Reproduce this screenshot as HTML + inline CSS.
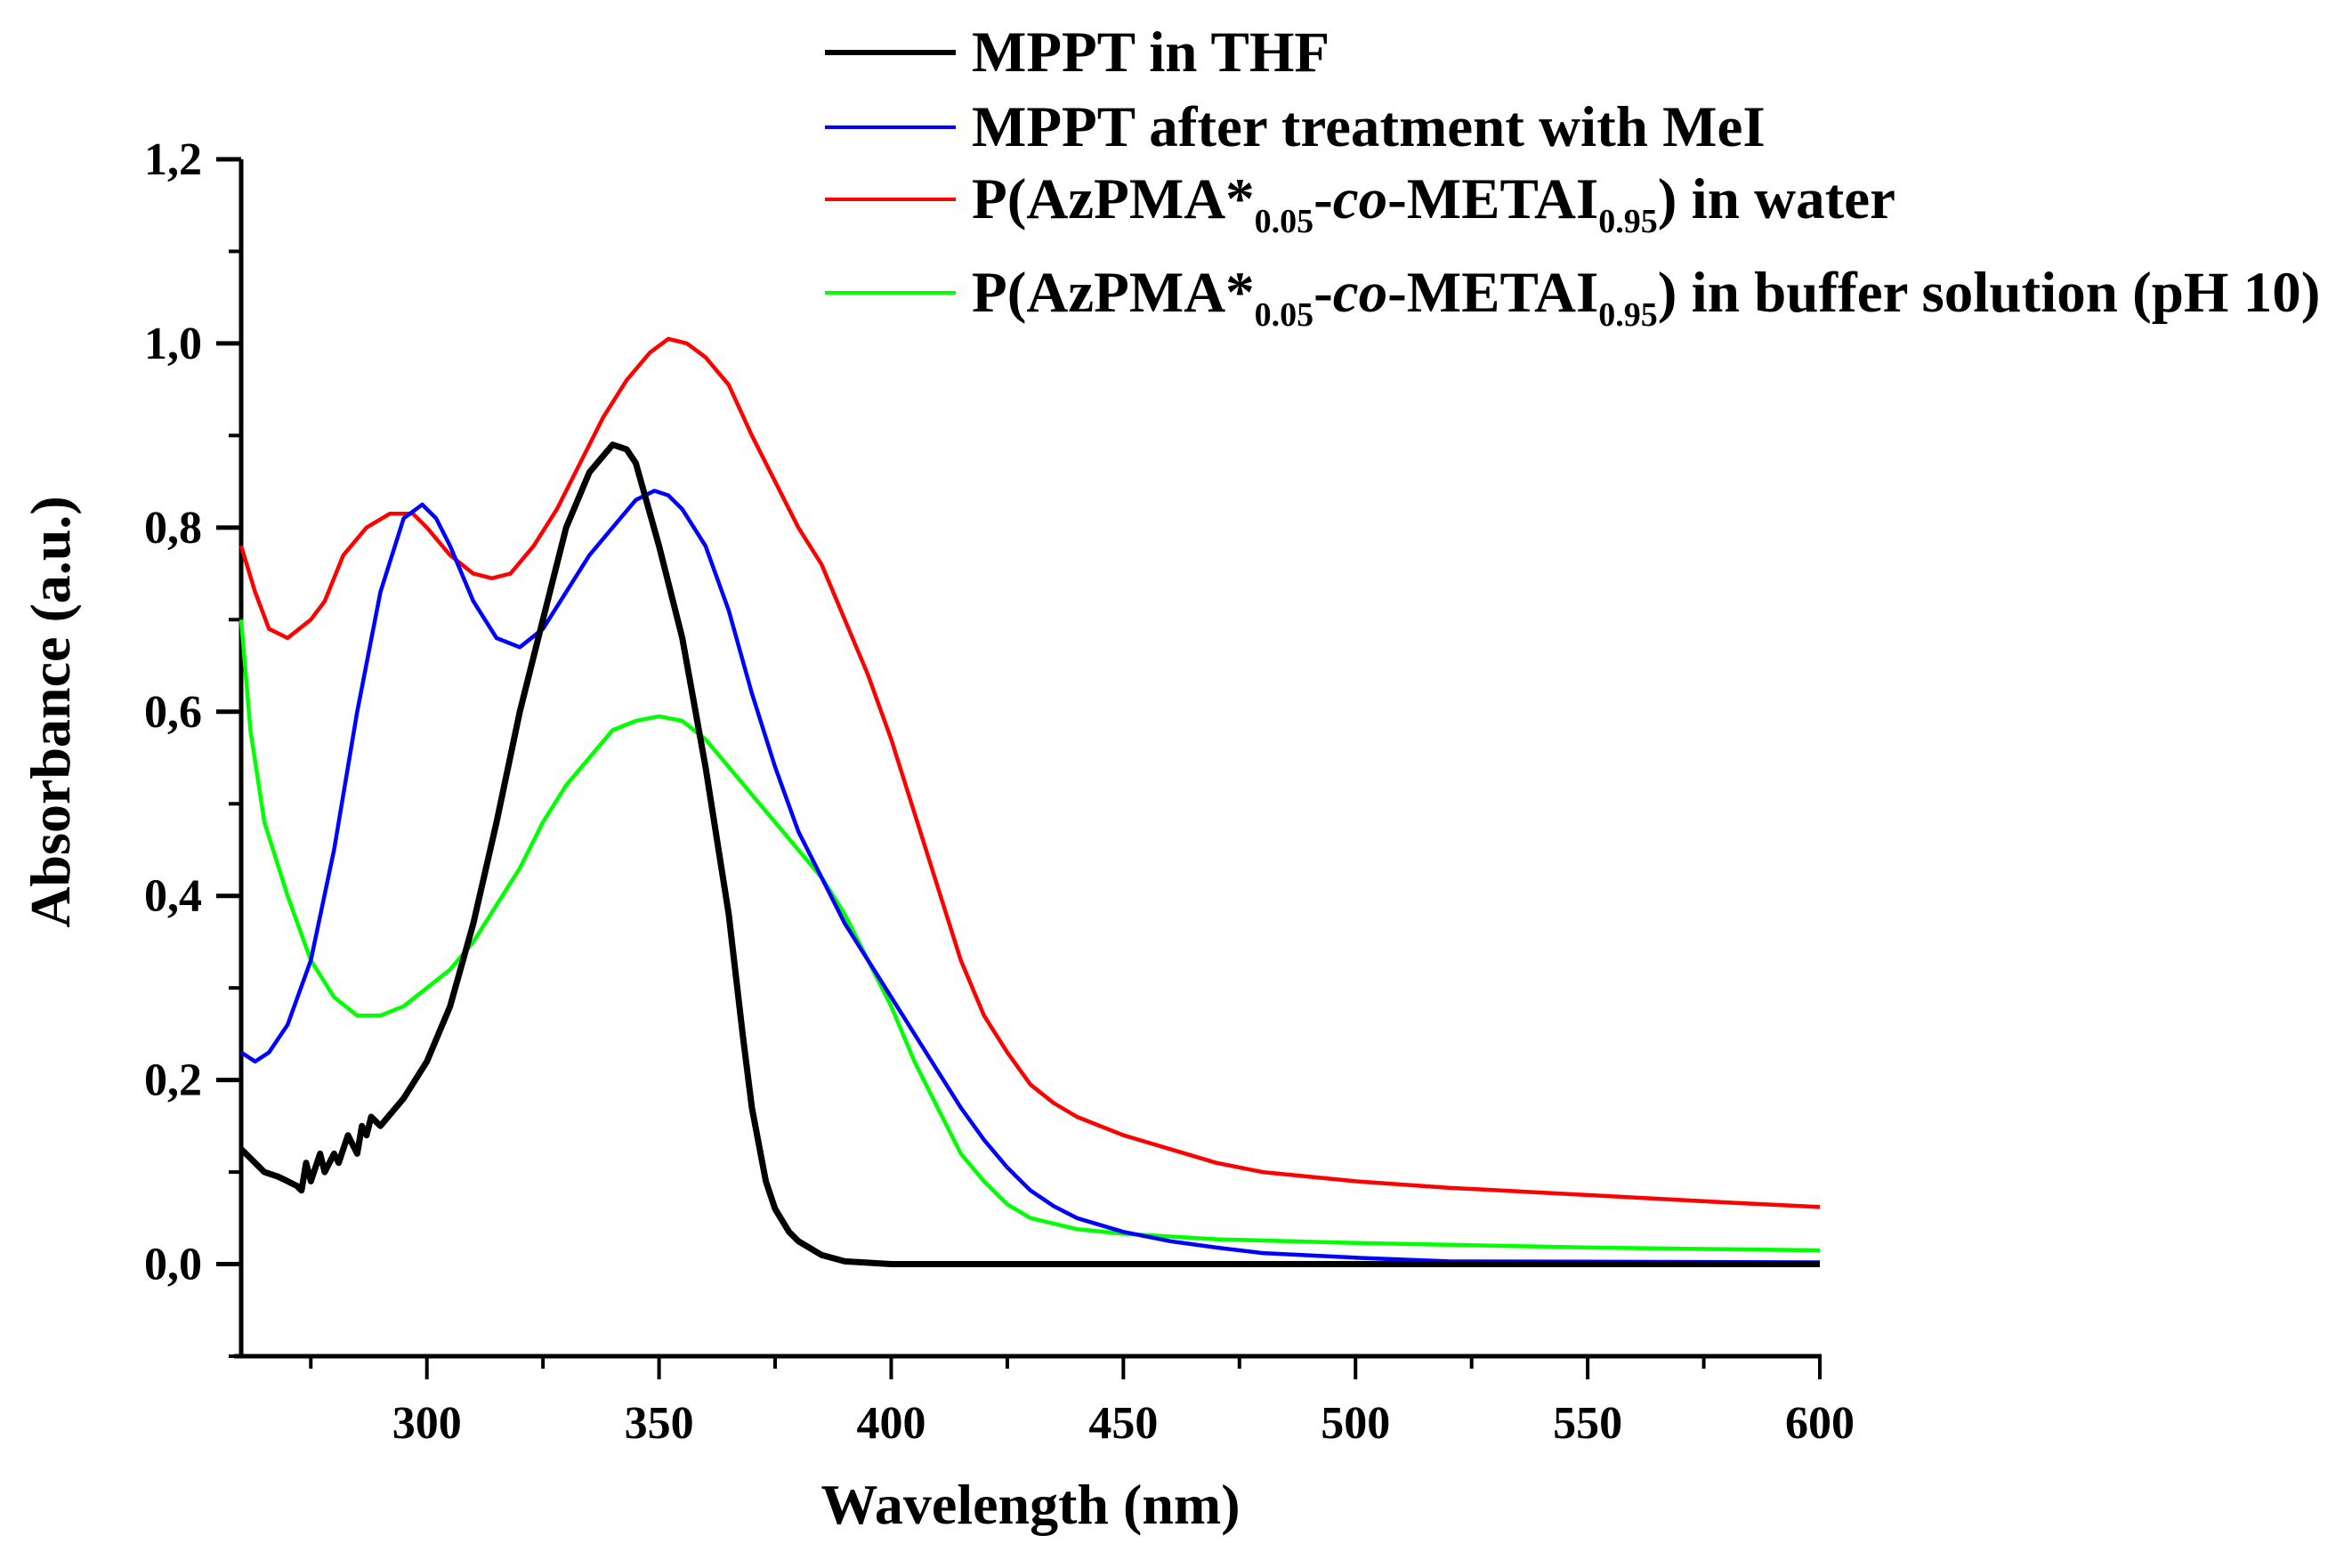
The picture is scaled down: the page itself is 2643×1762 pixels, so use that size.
<!DOCTYPE html>
<html><head><meta charset="utf-8"><style>
html,body{margin:0;padding:0;background:#fff;}
svg{display:block;font-family:"Liberation Serif",serif;font-weight:bold;}
</style></head><body>
<svg id="chart" width="2643" height="1762" viewBox="0 0 2643 1762" xmlns="http://www.w3.org/2000/svg">
<g id="axes"></g>
<g id="series"></g>
<text x="1158" y="1712" font-size="64" text-anchor="middle">Wavelength (nm)</text>
<text transform="translate(78,800) rotate(-90)" font-size="64" text-anchor="middle">Absorbance (a.u.)</text>
<g font-size="65">
 <g>
  <line x1="927" y1="59" x2="1074" y2="59" stroke="#000" stroke-width="6"/>
  <text x="1092" y="80">MPPT in THF</text></g>
 <g>
  <line x1="927" y1="143" x2="1074" y2="143" stroke="#0000ff" stroke-width="4"/>
  <text x="1092" y="164">MPPT after treatment with MeI</text></g>
 <g>
  <line x1="927" y1="224" x2="1074" y2="224" stroke="#ff0000" stroke-width="4"/>
  <text x="1092" y="245">P(AzPMA*<tspan font-size="38" dy="16">0.05</tspan><tspan dy="-16">-</tspan><tspan font-style="italic">co</tspan>-METAI<tspan font-size="38" dy="16">0.95</tspan><tspan dy="-16">) in water</tspan></text></g>
 <g>
  <line x1="927" y1="329" x2="1074" y2="329" stroke="#00ff00" stroke-width="4"/>
  <text x="1092" y="350">P(AzPMA*<tspan font-size="38" dy="16">0.05</tspan><tspan dy="-16">-</tspan><tspan font-style="italic">co</tspan>-METAI<tspan font-size="38" dy="16">0.95</tspan><tspan dy="-16">) in buffer solution (pH 10)</tspan></text></g>
</g>
</svg>
<script>
const xTicks=[300,350,400,450,500,550,600];
const xTickLabels=["300","350","400","450","500","550","600"];
const yTicks=[0,0.2,0.4,0.6,0.8,1.0,1.2];
const yTickLabels=["0,0","0,2","0,4","0,6","0,8","1,0","1,2"];
const thfWl=[260,265,268,270,272,273,274,275,277,278,280,281,283,285,286,287,288,290,295,300,305,310,315,320,325,330,335,340,343,345,350,355,360,365,368,370,373,375,378,380,385,390,400,600];
const thfAbs=[0.125,0.10,0.095,0.09,0.085,0.08,0.11,0.09,0.12,0.10,0.12,0.11,0.14,0.12,0.15,0.14,0.16,0.15,0.18,0.22,0.28,0.37,0.48,0.60,0.70,0.80,0.86,0.89,0.885,0.87,0.78,0.68,0.54,0.38,0.25,0.17,0.09,0.06,0.035,0.025,0.01,0.003,0,0];
const meiWl=[260,263,266,270,275,280,285,290,295,299,302,305,310,315,320,325,330,335,340,345,349,352,355,360,365,370,375,380,385,390,395,400,405,410,415,420,425,430,435,440,450,460,470,480,500,520,600];
const meiAbs=[0.23,0.22,0.23,0.26,0.33,0.45,0.60,0.73,0.81,0.825,0.81,0.78,0.72,0.68,0.67,0.69,0.73,0.77,0.80,0.83,0.84,0.835,0.82,0.78,0.71,0.62,0.54,0.47,0.42,0.37,0.33,0.29,0.25,0.21,0.17,0.135,0.105,0.08,0.063,0.05,0.035,0.025,0.018,0.012,0.007,0.003,0.002];
const waterWl=[260,263,266,270,275,278,282,287,292,297,300,305,310,314,318,323,328,333,338,343,348,352,356,360,365,370,375,380,385,390,395,400,405,410,415,420,425,430,435,440,450,460,470,480,500,520,550,580,600];
const waterAbs=[0.78,0.73,0.69,0.68,0.70,0.72,0.77,0.80,0.815,0.815,0.80,0.77,0.75,0.745,0.75,0.78,0.82,0.87,0.92,0.96,0.99,1.005,1.0,0.985,0.955,0.90,0.85,0.80,0.76,0.70,0.64,0.57,0.49,0.41,0.33,0.27,0.23,0.195,0.175,0.16,0.14,0.125,0.11,0.10,0.09,0.083,0.075,0.067,0.062];
const bufferWl=[260,262,265,270,275,280,285,290,295,300,305,310,315,320,325,330,335,340,345,350,355,360,365,370,375,380,385,390,395,400,405,410,415,420,425,430,440,450,470,500,550,600];
const bufferAbs=[0.70,0.58,0.48,0.40,0.33,0.29,0.27,0.27,0.28,0.30,0.32,0.35,0.39,0.43,0.48,0.52,0.55,0.58,0.59,0.595,0.59,0.57,0.54,0.51,0.48,0.45,0.42,0.38,0.33,0.28,0.22,0.17,0.12,0.09,0.065,0.05,0.038,0.033,0.027,0.023,0.018,0.015];

const NS="http://www.w3.org/2000/svg";
const X0=271,X1=2045,XMIN=260,XMAX=600;
const Y0=1524,Y1=179,YMIN=-0.1,YMAX=1.2;
function sx(v){return X0+(v-XMIN)/(XMAX-XMIN)*(X1-X0);}
function sy(v){return Y0-(v-YMIN)/(YMAX-YMIN)*(Y0-Y1);}
function mk(tag,attrs,parent){const e=document.createElementNS(NS,tag);for(const k in attrs)e.setAttribute(k,attrs[k]);parent.appendChild(e);return e;}
const axes=document.getElementById('axes');
let l=mk('line',{x1:X0,y1:Y0+2,x2:X0,y2:Y1,stroke:'#000','stroke-width':5},axes);


l=mk('line',{x1:X0-8,y1:Y0,x2:X1+2,y2:Y0,stroke:'#000','stroke-width':5},axes);


xTicks.forEach((v,i)=>{
  const t=mk('line',{x1:sx(v),y1:Y0,x2:sx(v),y2:Y0+26,stroke:'#000','stroke-width':4},axes);
  
  
  const tx=mk('text',{x:sx(v),y:Y0+92,'font-size':52,'text-anchor':'middle'},axes);
  tx.textContent=xTickLabels[i];
  
  
  if(v-25>XMIN){const m=mk('line',{x1:sx(v-25),y1:Y0,x2:sx(v-25),y2:Y0+14,stroke:'#000','stroke-width':4},axes);
  
  }
});
yTicks.forEach((v,i)=>{
  const t=mk('line',{x1:X0-28,y1:sy(v),x2:X0,y2:sy(v),stroke:'#000','stroke-width':5},axes);
  
  
  const tx=mk('text',{x:X0-44,y:sy(v)+17,'font-size':52,'text-anchor':'end'},axes);
  tx.textContent=yTickLabels[i];
  
  
  const mv=v-0.1;
  if(mv>YMIN-0.001){const m=mk('line',{x1:X0-14,y1:sy(mv),x2:X0,y2:sy(mv),stroke:'#000','stroke-width':4},axes);
  
  }
});
const sg=document.getElementById('series');
function line(wl,ab,color,w,name){
  const d=wl.map((x,i)=>(i?'L':'M')+sx(x).toFixed(1)+','+sy(ab[i]).toFixed(1)).join('');
  const p=mk('path',{d:d,fill:'none',stroke:color,'stroke-width':w,'stroke-linejoin':'round'},sg);
  
  
}
line(bufferWl,bufferAbs,'#00ff00',4.5,'series-buffer');
line(waterWl,waterAbs,'#ff0000',4.5,'series-water');
line(meiWl,meiAbs,'#0000ff',4.5,'series-mei');
line(thfWl,thfAbs,'#000000',7,'series-thf');
</script>
</body></html>
